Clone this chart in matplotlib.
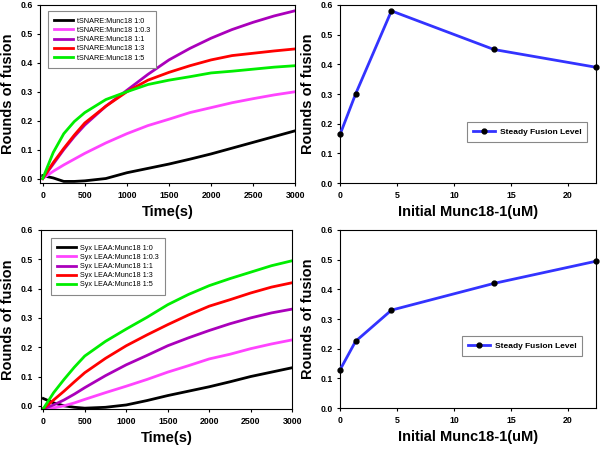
import matplotlib
matplotlib.use("Agg")
import matplotlib.pyplot as plt

plt.rcParams["font.family"] = ["Liberation Sans", "DejaVu Sans"]

# time axis shared by the kinetic curves (s)
time_s = [0, 125, 250, 375, 500, 750, 1000, 1250, 1500, 1750, 2000, 2250, 2500, 2750, 3000]

# top-left: wild type tSNARE titration
wt_labels = ["tSNARE:Munc18 1:0", "tSNARE:Munc18 1:0.3", "tSNARE:Munc18 1:1",
             "tSNARE:Munc18 1:3", "tSNARE:Munc18 1:5"]
wt_curves = [
    [0.01, 0.002, -0.01, -0.01, -0.008, 0.0, 0.02, 0.035, 0.05, 0.067, 0.085, 0.105, 0.125, 0.145, 0.165],
    [0.0, 0.025, 0.047, 0.067, 0.087, 0.123, 0.155, 0.183, 0.205, 0.228, 0.245, 0.262, 0.276, 0.289, 0.30],
    [0.0, 0.05, 0.1, 0.145, 0.185, 0.25, 0.305, 0.36, 0.41, 0.45, 0.485, 0.515, 0.54, 0.562, 0.58],
    [0.0, 0.055, 0.104, 0.15, 0.192, 0.25, 0.30, 0.34, 0.367, 0.39, 0.41, 0.425, 0.433, 0.441, 0.448],
    [0.0, 0.09, 0.155, 0.197, 0.228, 0.273, 0.30, 0.325, 0.34, 0.352, 0.365, 0.371, 0.378, 0.385, 0.39],
]

# bottom-left: Syx LEAA titration
leaa_labels = ["Syx LEAA:Munc18 1:0", "Syx LEAA:Munc18 1:0.3", "Syx LEAA:Munc18 1:1",
               "Syx LEAA:Munc18 1:3", "Syx LEAA:Munc18 1:5"]
leaa_curves = [
    [0.025, 0.01, 0.0, -0.005, -0.008, -0.005, 0.003, 0.018, 0.035, 0.05, 0.065, 0.082, 0.1, 0.115, 0.13],
    [-0.01, -0.007, 0.0, 0.01, 0.022, 0.045, 0.067, 0.09, 0.115, 0.137, 0.16, 0.176, 0.195, 0.211, 0.225],
    [-0.01, 0.003, 0.02, 0.04, 0.062, 0.103, 0.14, 0.172, 0.205, 0.232, 0.257, 0.28, 0.30, 0.317, 0.33],
    [-0.01, 0.02, 0.05, 0.082, 0.113, 0.162, 0.205, 0.242, 0.277, 0.31, 0.34, 0.362, 0.385, 0.405, 0.42],
    [-0.01, 0.045, 0.09, 0.132, 0.17, 0.22, 0.262, 0.302, 0.345, 0.38, 0.41, 0.434, 0.456, 0.478, 0.495],
]

curve_colors = ["black", "#ff44ff", "#aa00bb", "#ff0000", "#00ee00"]

# right panels: steady fusion level vs Munc18 concentration
munc_um = [0, 1.35, 4.5, 13.5, 22.5]
wt_steady = [0.165, 0.30, 0.58, 0.45, 0.39]
leaa_steady = [0.13, 0.225, 0.33, 0.42, 0.495]

fig = plt.figure(figsize=(6, 4.5), dpi=100)


def style_axis(ax, xlabel, ymin):
    ax.set_ylim(ymin, 0.6)
    ax.set_yticks([0.0, 0.1, 0.2, 0.3, 0.4, 0.5, 0.6])
    ax.set_yticklabels(["0.0", "0.1", "0.2", "0.3", "0.4", "0.5", "0.6"])
    ax.set_xlabel(xlabel, fontsize=10.5, fontweight="bold", labelpad=4)
    ax.set_ylabel("Rounds of fusion", fontsize=10.5, fontweight="bold", labelpad=4)
    ax.tick_params(labelsize=6.3, length=2.5, width=0.8, pad=3)
    for lab in ax.get_xticklabels() + ax.get_yticklabels():
        lab.set_fontweight("bold")
    for sp in ax.spines.values():
        sp.set_linewidth(0.8)


def kinetic_panel(rect, curves, labels, ymin, legend_box):
    ax = fig.add_axes(rect)
    for ys, c, lab in zip(curves, curve_colors, labels):
        ax.plot(time_s, ys, color=c, lw=2.0, label=lab)
    ax.set_xlim(-30, 3000)
    ax.set_xticks([0, 500, 1000, 1500, 2000, 2500, 3000])
    style_axis(ax, "Time(s)", ymin)
    leg = ax.legend(loc="upper left", bbox_to_anchor=legend_box, fontsize=5.2,
                    handlelength=2.6, handletextpad=0.5, labelspacing=0.3,
                    borderpad=0.9, fancybox=False, framealpha=1)
    leg.get_frame().set_edgecolor("#888888")
    leg.get_frame().set_linewidth(0.8)
    return ax


def steady_panel(rect, ys, legend_box):
    ax = fig.add_axes(rect)
    ax.plot(munc_um, ys, color="#3333ff", lw=2.0, marker="o", markersize=3.5,
            markerfacecolor="black", markeredgecolor="black", label="Steady Fusion Level",
            clip_on=False, zorder=3)
    ax.set_xlim(0, 22.5)
    ax.set_xticks([0, 5, 10, 15, 20])
    style_axis(ax, "Initial Munc18-1(uM)", 0)
    leg = ax.legend(loc="lower left", bbox_to_anchor=legend_box,
                    handlelength=2.6, handletextpad=0.6, borderpad=0.7,
                    fancybox=False, framealpha=1, prop={"weight": "bold", "size": 6})
    leg.get_frame().set_edgecolor("#888888")
    leg.get_frame().set_linewidth(0.8)
    return ax


kinetic_panel([0.067, 0.593, 0.425, 0.396], wt_curves, wt_labels, -0.016, (0.015, 0.985))
kinetic_panel([0.068, 0.091, 0.419, 0.398], leaa_curves, leaa_labels, -0.011, (0.025, 0.975))
steady_panel([0.567, 0.593, 0.427, 0.396], wt_steady, (0.48, 0.21))
steady_panel([0.567, 0.093, 0.427, 0.396], leaa_steady, (0.46, 0.27))

fig.savefig("out.png", dpi=100)
